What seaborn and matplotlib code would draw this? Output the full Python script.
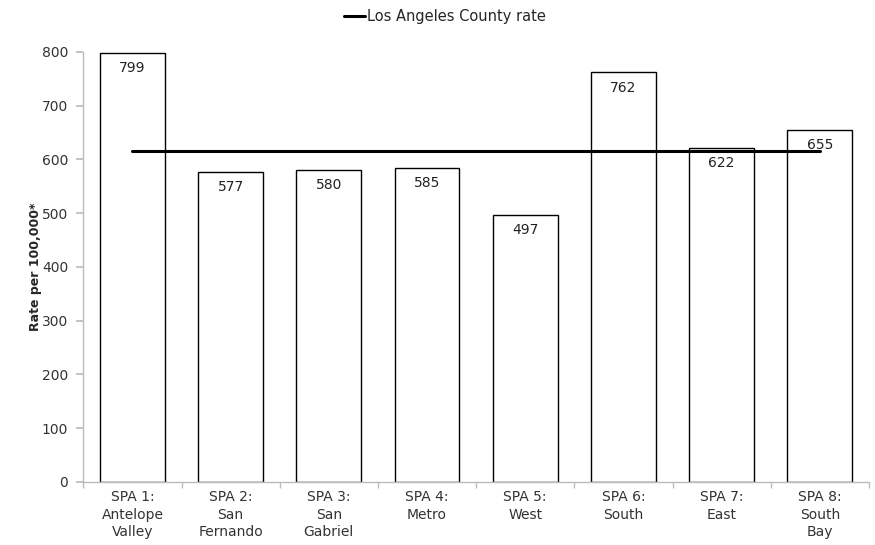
import numpy as np
import pandas as pd
import matplotlib
matplotlib.use("Agg")
import matplotlib.pyplot as plt
import seaborn as sns

# data
spas = ["SPA 1:\nAntelope\nValley", "SPA 2:\nSan\nFernando", "SPA 3:\nSan\nGabriel",
        "SPA 4:\nMetro", "SPA 5:\nWest", "SPA 6:\nSouth", "SPA 7:\nEast",
        "SPA 8:\nSouth\nBay"]
rates = [799, 577, 580, 585, 497, 762, 622, 655]
county_rate = 616
y_ticks = [0, 100, 200, 300, 400, 500, 600, 700, 800]

sns.set_theme(style="white")
plt.rcParams["font.family"] = ["DejaVu Sans"]

df = pd.DataFrame({"spa": spas, "rate": rates, "county": [county_rate] * len(spas)})

fig = plt.figure(figsize=(8.75, 5.45), dpi=100)
ax = fig.add_axes([0.0953, 0.1156, 0.8977, 0.789])

sns.barplot(data=df, x="spa", y="rate", color="white", edgecolor="black",
            linewidth=1.0, width=0.66, saturation=1, ax=ax)
for bar in ax.patches:
    bar.set_facecolor("white")
sns.lineplot(data=df, x="spa", y="county", color="black", linewidth=2.2,
             ax=ax, label="Los Angeles County rate")

ax.bar_label(ax.containers[0], padding=-16, fontsize=10, color="#222222")

ax.set_ylim(0, 800)
ax.set_xlim(-0.5, len(spas) - 0.5)
ax.set_yticks(y_ticks)
ax.set_xticks(range(len(spas)))
ax.set_xticklabels(spas, fontsize=10, color="#333333", linespacing=1.3)
ax.set_xticks(np.arange(-0.5, len(spas), 1.0), minor=True)
ax.tick_params(axis="x", which="major", length=0, pad=6)
ax.tick_params(axis="x", which="minor", length=4, color="#bbbbbb", bottom=True)
ax.tick_params(axis="y", length=5, color="#bbbbbb", left=True, labelsize=10,
               labelcolor="#333333", pad=6)
ax.set_xlabel("")
ax.set_ylabel("Rate per 100,000*", fontsize=9, fontweight="bold", labelpad=0)

sns.despine(ax=ax)
for side in ["left", "bottom"]:
    ax.spines[side].set_color("#bbbbbb")
    ax.spines[side].set_linewidth(1)

ax.legend(loc="upper center", bbox_to_anchor=(0.46, 1.13), frameon=False,
          fontsize=10.5, handlelength=1.5, handletextpad=0.1)

fig.savefig("out.png", dpi=100)
